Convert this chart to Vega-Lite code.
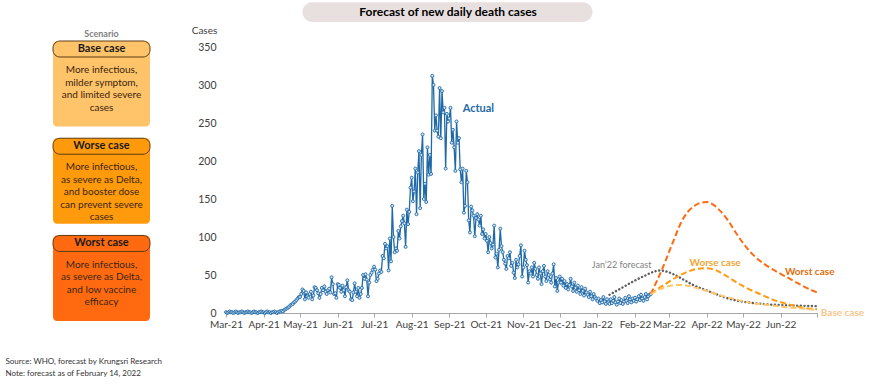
{
"$schema":"https://vega.github.io/schema/vega-lite/v6.json",
"padding":{"left":5,"top":2,"right":3,"bottom":2},
"bounds":"flush",
"spacing":76,
"title":{"text":["Source: WHO, forecast by Krungsri Research","Note: forecast as of February 14, 2022"],"orient":"bottom","anchor":"start","fontSize":8,"fontWeight":"normal","color":"#333333","dx":-47,"offset":29,"lineHeight":12},
"config":{"font":"Lato","view":{"stroke":null},
 "axisX":{"grid":false,"domainColor":"#A6A6A6","tickColor":"#A6A6A6","tickSize":4,"labelFontSize":10,"labelColor":"#404040","labelPadding":2,"labelFlush":false,"labelOverlap":false},
 "axisY":{"grid":false,"domain":false,"ticks":false,"labelPadding":10,"labelFontSize":10.5,"labelColor":"#404040","labelOverlap":false,"titleAngle":0,"titleX":-22,"titleY":-17,"titleAlign":"center","titleBaseline":"middle","titleFontSize":10,"titleFontWeight":"normal","titleColor":"#404040"}},
"hconcat":[
{
 "width":97,"height":266,
 "title":{"text":"Scenario","fontSize":9,"fontWeight":"bold","color":"#7F7F7F","offset":2,"anchor":"middle"},
 "data":{"values":[
  {"scenario":"Base case","desc":["More infectious,","milder symptom,","and limited severe","cases"]},
  {"scenario":"Worse case","desc":["More infectious,","as severe as Delta,","and booster dose","can prevent severe","cases"]},
  {"scenario":"Worst case","desc":["More infectious,","as severe as Delta,","and low vaccine","efficacy"]}
 ]},
 "layer":[
  {"mark":{"type":"rect","cornerRadius":4},
   "encoding":{
    "y":{"field":"scenario","type":"nominal","sort":null,"scale":{"domain":["Base case","Worse case","Worst case"],"range":[-6,274],"paddingInner":0.12,"paddingOuter":0},"axis":null},
    "color":{"field":"scenario","type":"nominal","scale":{"domain":["Base case","Worse case","Worst case"],"range":["#FFC369","#FF9A0D","#FF6A10"]},"legend":null}}},
  {"mark":{"type":"rect","height":16,"baseline":"top","cornerRadius":7,"stroke":"#5C3D17","strokeWidth":1},
   "encoding":{
    "y":{"field":"scenario","type":"nominal"},
    "color":{"field":"scenario","type":"nominal"}}},
  {"mark":{"type":"text","fontSize":11,"fontWeight":"bold","color":"#1A1A1A","baseline":"middle"},
   "encoding":{"y":{"field":"scenario","type":"nominal","bandPosition":0.094},"text":{"field":"scenario"}}},
  {"mark":{"type":"text","fontSize":10,"lineHeight":12.5,"color":"#3A2510","baseline":"middle"},
   "encoding":{"y":{"field":"scenario","type":"nominal","bandPosition":0.34},"text":{"field":"desc"}}}
 ]
},
{
 "width":591,"height":266,
 "layer":[
  {"data":{"values":[
{"date":"2021-03-01","cases":1},{"date":"2021-03-02","cases":0},{"date":"2021-03-03","cases":1},{"date":"2021-03-04","cases":2},{"date":"2021-03-05","cases":1},{"date":"2021-03-06","cases":1},{"date":"2021-03-07","cases":0},{"date":"2021-03-08","cases":1},{"date":"2021-03-09","cases":2},{"date":"2021-03-10","cases":1},{"date":"2021-03-11","cases":0},{"date":"2021-03-12","cases":1},{"date":"2021-03-13","cases":1},{"date":"2021-03-14","cases":2},{"date":"2021-03-15","cases":1},{"date":"2021-03-16","cases":0},{"date":"2021-03-17","cases":1},{"date":"2021-03-18","cases":1},{"date":"2021-03-19","cases":2},{"date":"2021-03-20","cases":1},{"date":"2021-03-21","cases":1},{"date":"2021-03-22","cases":0},{"date":"2021-03-23","cases":1},{"date":"2021-03-24","cases":2},{"date":"2021-03-25","cases":1},{"date":"2021-03-26","cases":1},{"date":"2021-03-27","cases":0},{"date":"2021-03-28","cases":1},{"date":"2021-03-29","cases":1},{"date":"2021-03-30","cases":2},{"date":"2021-03-31","cases":1},
{"date":"2021-04-01","cases":1},{"date":"2021-04-02","cases":0},{"date":"2021-04-03","cases":1},{"date":"2021-04-04","cases":2},{"date":"2021-04-05","cases":1},{"date":"2021-04-06","cases":1},{"date":"2021-04-07","cases":0},{"date":"2021-04-08","cases":1},{"date":"2021-04-09","cases":1},{"date":"2021-04-10","cases":2},{"date":"2021-04-11","cases":1},{"date":"2021-04-12","cases":0},{"date":"2021-04-13","cases":1},{"date":"2021-04-14","cases":2},{"date":"2021-04-15","cases":2},{"date":"2021-04-16","cases":3},{"date":"2021-04-17","cases":2},{"date":"2021-04-18","cases":4},{"date":"2021-04-19","cases":5},{"date":"2021-04-20","cases":6},{"date":"2021-04-21","cases":7},{"date":"2021-04-22","cases":8},{"date":"2021-04-23","cases":10},{"date":"2021-04-24","cases":11},{"date":"2021-04-25","cases":12},{"date":"2021-04-26","cases":14},{"date":"2021-04-27","cases":15},{"date":"2021-04-28","cases":17},{"date":"2021-04-29","cases":19},{"date":"2021-04-30","cases":21},
{"date":"2021-05-01","cases":21},{"date":"2021-05-02","cases":25},{"date":"2021-05-03","cases":31},{"date":"2021-05-04","cases":29},{"date":"2021-05-05","cases":18},{"date":"2021-05-06","cases":27},{"date":"2021-05-07","cases":22},{"date":"2021-05-08","cases":20},{"date":"2021-05-09","cases":25},{"date":"2021-05-10","cases":28},{"date":"2021-05-11","cases":18},{"date":"2021-05-12","cases":23},{"date":"2021-05-13","cases":34},{"date":"2021-05-14","cases":33},{"date":"2021-05-15","cases":30},{"date":"2021-05-16","cases":26},{"date":"2021-05-17","cases":20},{"date":"2021-05-18","cases":25},{"date":"2021-05-19","cases":33},{"date":"2021-05-20","cases":30},{"date":"2021-05-21","cases":35},{"date":"2021-05-22","cases":28},{"date":"2021-05-23","cases":25},{"date":"2021-05-24","cases":30},{"date":"2021-05-25","cases":32},{"date":"2021-05-26","cases":27},{"date":"2021-05-27","cases":47},{"date":"2021-05-28","cases":38},{"date":"2021-05-29","cases":25},{"date":"2021-05-30","cases":26},{"date":"2021-05-31","cases":20},
{"date":"2021-06-01","cases":38},{"date":"2021-06-02","cases":37},{"date":"2021-06-03","cases":33},{"date":"2021-06-04","cases":28},{"date":"2021-06-05","cases":36},{"date":"2021-06-06","cases":30},{"date":"2021-06-07","cases":22},{"date":"2021-06-08","cases":34},{"date":"2021-06-09","cases":43},{"date":"2021-06-10","cases":30},{"date":"2021-06-11","cases":28},{"date":"2021-06-12","cases":18},{"date":"2021-06-13","cases":17},{"date":"2021-06-14","cases":27},{"date":"2021-06-15","cases":39},{"date":"2021-06-16","cases":28},{"date":"2021-06-17","cases":22},{"date":"2021-06-18","cases":33},{"date":"2021-06-19","cases":20},{"date":"2021-06-20","cases":25},{"date":"2021-06-21","cases":33},{"date":"2021-06-22","cases":50},{"date":"2021-06-23","cases":45},{"date":"2021-06-24","cases":51},{"date":"2021-06-25","cases":44},{"date":"2021-06-26","cases":22},{"date":"2021-06-27","cases":40},{"date":"2021-06-28","cases":50},{"date":"2021-06-29","cases":53},{"date":"2021-06-30","cases":57},
{"date":"2021-07-01","cases":61},{"date":"2021-07-02","cases":57},{"date":"2021-07-03","cases":42},{"date":"2021-07-04","cases":45},{"date":"2021-07-05","cases":52},{"date":"2021-07-06","cases":56},{"date":"2021-07-07","cases":54},{"date":"2021-07-08","cases":75},{"date":"2021-07-09","cases":72},{"date":"2021-07-10","cases":91},{"date":"2021-07-11","cases":85},{"date":"2021-07-12","cases":88},{"date":"2021-07-13","cases":56},{"date":"2021-07-14","cases":98},{"date":"2021-07-15","cases":68},{"date":"2021-07-16","cases":141},{"date":"2021-07-17","cases":100},{"date":"2021-07-18","cases":80},{"date":"2021-07-19","cases":85},{"date":"2021-07-20","cases":82},{"date":"2021-07-21","cases":108},{"date":"2021-07-22","cases":98},{"date":"2021-07-23","cases":114},{"date":"2021-07-24","cases":121},{"date":"2021-07-25","cases":128},{"date":"2021-07-26","cases":118},{"date":"2021-07-27","cases":87},{"date":"2021-07-28","cases":136},{"date":"2021-07-29","cases":117},{"date":"2021-07-30","cases":133},{"date":"2021-07-31","cases":165},
{"date":"2021-08-01","cases":178},{"date":"2021-08-02","cases":147},{"date":"2021-08-03","cases":160},{"date":"2021-08-04","cases":190},{"date":"2021-08-05","cases":130},{"date":"2021-08-06","cases":185},{"date":"2021-08-07","cases":213},{"date":"2021-08-08","cases":138},{"date":"2021-08-09","cases":208},{"date":"2021-08-10","cases":235},{"date":"2021-08-11","cases":150},{"date":"2021-08-12","cases":170},{"date":"2021-08-13","cases":146},{"date":"2021-08-14","cases":218},{"date":"2021-08-15","cases":182},{"date":"2021-08-16","cases":208},{"date":"2021-08-17","cases":183},{"date":"2021-08-18","cases":312},{"date":"2021-08-19","cases":300},{"date":"2021-08-20","cases":240},{"date":"2021-08-21","cases":260},{"date":"2021-08-22","cases":240},{"date":"2021-08-23","cases":232},{"date":"2021-08-24","cases":296},{"date":"2021-08-25","cases":230},{"date":"2021-08-26","cases":292},{"date":"2021-08-27","cases":264},{"date":"2021-08-28","cases":270},{"date":"2021-08-29","cases":190},{"date":"2021-08-30","cases":262},{"date":"2021-08-31","cases":252},
{"date":"2021-09-01","cases":256},{"date":"2021-09-02","cases":270},{"date":"2021-09-03","cases":224},{"date":"2021-09-04","cases":241},{"date":"2021-09-05","cases":218},{"date":"2021-09-06","cases":187},{"date":"2021-09-07","cases":252},{"date":"2021-09-08","cases":224},{"date":"2021-09-09","cases":230},{"date":"2021-09-10","cases":189},{"date":"2021-09-11","cases":172},{"date":"2021-09-12","cases":190},{"date":"2021-09-13","cases":132},{"date":"2021-09-14","cases":141},{"date":"2021-09-15","cases":187},{"date":"2021-09-16","cases":172},{"date":"2021-09-17","cases":122},{"date":"2021-09-18","cases":106},{"date":"2021-09-19","cases":140},{"date":"2021-09-20","cases":135},{"date":"2021-09-21","cases":128},{"date":"2021-09-22","cases":101},{"date":"2021-09-23","cases":125},{"date":"2021-09-24","cases":130},{"date":"2021-09-25","cases":123},{"date":"2021-09-26","cases":115},{"date":"2021-09-27","cases":128},{"date":"2021-09-28","cases":104},{"date":"2021-09-29","cases":110},{"date":"2021-09-30","cases":98},
{"date":"2021-10-01","cases":104},{"date":"2021-10-02","cases":95},{"date":"2021-10-03","cases":80},{"date":"2021-10-04","cases":100},{"date":"2021-10-05","cases":92},{"date":"2021-10-06","cases":85},{"date":"2021-10-07","cases":90},{"date":"2021-10-08","cases":115},{"date":"2021-10-09","cases":73},{"date":"2021-10-10","cases":78},{"date":"2021-10-11","cases":60},{"date":"2021-10-12","cases":83},{"date":"2021-10-13","cases":111},{"date":"2021-10-14","cases":88},{"date":"2021-10-15","cases":80},{"date":"2021-10-16","cases":70},{"date":"2021-10-17","cases":65},{"date":"2021-10-18","cases":58},{"date":"2021-10-19","cases":75},{"date":"2021-10-20","cases":72},{"date":"2021-10-21","cases":80},{"date":"2021-10-22","cases":62},{"date":"2021-10-23","cases":66},{"date":"2021-10-24","cases":53},{"date":"2021-10-25","cases":46},{"date":"2021-10-26","cases":70},{"date":"2021-10-27","cases":60},{"date":"2021-10-28","cases":64},{"date":"2021-10-29","cases":75},{"date":"2021-10-30","cases":89},{"date":"2021-10-31","cases":48},
{"date":"2021-11-01","cases":60},{"date":"2021-11-02","cases":82},{"date":"2021-11-03","cases":70},{"date":"2021-11-04","cases":63},{"date":"2021-11-05","cases":40},{"date":"2021-11-06","cases":55},{"date":"2021-11-07","cases":52},{"date":"2021-11-08","cases":60},{"date":"2021-11-09","cases":48},{"date":"2021-11-10","cases":66},{"date":"2021-11-11","cases":58},{"date":"2021-11-12","cases":50},{"date":"2021-11-13","cases":45},{"date":"2021-11-14","cases":60},{"date":"2021-11-15","cases":52},{"date":"2021-11-16","cases":38},{"date":"2021-11-17","cases":55},{"date":"2021-11-18","cases":62},{"date":"2021-11-19","cases":48},{"date":"2021-11-20","cases":42},{"date":"2021-11-21","cases":55},{"date":"2021-11-22","cases":50},{"date":"2021-11-23","cases":44},{"date":"2021-11-24","cases":40},{"date":"2021-11-25","cases":52},{"date":"2021-11-26","cases":64},{"date":"2021-11-27","cases":35},{"date":"2021-11-28","cases":46},{"date":"2021-11-29","cases":29},{"date":"2021-11-30","cases":40},
{"date":"2021-12-01","cases":48},{"date":"2021-12-02","cases":40},{"date":"2021-12-03","cases":45},{"date":"2021-12-04","cases":36},{"date":"2021-12-05","cases":42},{"date":"2021-12-06","cases":33},{"date":"2021-12-07","cases":38},{"date":"2021-12-08","cases":31},{"date":"2021-12-09","cases":37},{"date":"2021-12-10","cases":45},{"date":"2021-12-11","cases":35},{"date":"2021-12-12","cases":29},{"date":"2021-12-13","cases":40},{"date":"2021-12-14","cases":33},{"date":"2021-12-15","cases":28},{"date":"2021-12-16","cases":36},{"date":"2021-12-17","cases":30},{"date":"2021-12-18","cases":25},{"date":"2021-12-19","cases":34},{"date":"2021-12-20","cases":29},{"date":"2021-12-21","cases":23},{"date":"2021-12-22","cases":32},{"date":"2021-12-23","cases":27},{"date":"2021-12-24","cases":24},{"date":"2021-12-25","cases":21},{"date":"2021-12-26","cases":28},{"date":"2021-12-27","cases":22},{"date":"2021-12-28","cases":18},{"date":"2021-12-29","cases":25},{"date":"2021-12-30","cases":21},{"date":"2021-12-31","cases":19},
{"date":"2022-01-01","cases":16},{"date":"2022-01-02","cases":19},{"date":"2022-01-03","cases":13},{"date":"2022-01-04","cases":17},{"date":"2022-01-05","cases":14},{"date":"2022-01-06","cases":21},{"date":"2022-01-07","cases":15},{"date":"2022-01-08","cases":12},{"date":"2022-01-09","cases":18},{"date":"2022-01-10","cases":14},{"date":"2022-01-11","cases":12},{"date":"2022-01-12","cases":18},{"date":"2022-01-13","cases":13},{"date":"2022-01-14","cases":16},{"date":"2022-01-15","cases":21},{"date":"2022-01-16","cases":14},{"date":"2022-01-17","cases":11},{"date":"2022-01-18","cases":15},{"date":"2022-01-19","cases":19},{"date":"2022-01-20","cases":13},{"date":"2022-01-21","cases":17},{"date":"2022-01-22","cases":12},{"date":"2022-01-23","cases":15},{"date":"2022-01-24","cases":20},{"date":"2022-01-25","cases":16},{"date":"2022-01-26","cases":13},{"date":"2022-01-27","cases":22},{"date":"2022-01-28","cases":18},{"date":"2022-01-29","cases":14},{"date":"2022-01-30","cases":19},{"date":"2022-01-31","cases":16},
{"date":"2022-02-01","cases":20},{"date":"2022-02-02","cases":15},{"date":"2022-02-03","cases":18},{"date":"2022-02-04","cases":22},{"date":"2022-02-05","cases":17},{"date":"2022-02-06","cases":24},{"date":"2022-02-07","cases":19},{"date":"2022-02-08","cases":16},{"date":"2022-02-09","cases":21},{"date":"2022-02-10","cases":25},{"date":"2022-02-11","cases":18},{"date":"2022-02-12","cases":22},{"date":"2022-02-13","cases":24},{"date":"2022-02-14","cases":25}
  ]},
   "mark":{"type":"line","color":"#1F69A6","strokeWidth":1.3,"point":{"filled":false,"fill":"#D6E6F4","stroke":"#1F69A6","size":9,"strokeWidth":0.9}},
   "encoding":{
    "x":{"field":"date","type":"temporal","title":null,"scale":{"domain":[{"year":2021,"month":3,"date":1},{"year":2022,"month":7,"date":1}]},"axis":{"values":[{"year":2021,"month":3,"date":1},{"year":2021,"month":4,"date":1},{"year":2021,"month":5,"date":1},{"year":2021,"month":6,"date":1},{"year":2021,"month":7,"date":1},{"year":2021,"month":8,"date":1},{"year":2021,"month":9,"date":1},{"year":2021,"month":10,"date":1},{"year":2021,"month":11,"date":1},{"year":2021,"month":12,"date":1},{"year":2022,"month":1,"date":1},{"year":2022,"month":2,"date":1},{"year":2022,"month":3,"date":1},{"year":2022,"month":4,"date":1},{"year":2022,"month":5,"date":1},{"year":2022,"month":6,"date":1},{"year":2022,"month":7,"date":1}],"format":"%b-%y","labelExpr":"year(datum.value) == 2022 && month(datum.value) == 6 ? '' : datum.label","labelOverlap":false}},
    "y":{"field":"cases","type":"quantitative","title":"Cases","scale":{"domain":[0,350]},"axis":{"values":[0,50,100,150,200,250,300,350],"labelOverlap":false}}
   }},
  {"data":{"values":[
{"series":"Jan’22 forecast","date":"2022-01-11","cases":24},{"series":"Jan’22 forecast","date":"2022-01-20","cases":32},{"series":"Jan’22 forecast","date":"2022-01-30","cases":41},{"series":"Jan’22 forecast","date":"2022-02-09","cases":49},{"series":"Jan’22 forecast","date":"2022-02-16","cases":54},{"series":"Jan’22 forecast","date":"2022-02-21","cases":56},{"series":"Jan’22 forecast","date":"2022-02-26","cases":55},{"series":"Jan’22 forecast","date":"2022-03-06","cases":50},{"series":"Jan’22 forecast","date":"2022-03-14","cases":43},{"series":"Jan’22 forecast","date":"2022-03-22","cases":36},{"series":"Jan’22 forecast","date":"2022-03-30","cases":31},{"series":"Jan’22 forecast","date":"2022-04-07","cases":26},{"series":"Jan’22 forecast","date":"2022-04-17","cases":20},{"series":"Jan’22 forecast","date":"2022-04-27","cases":16},{"series":"Jan’22 forecast","date":"2022-05-10","cases":13},{"series":"Jan’22 forecast","date":"2022-05-25","cases":11},{"series":"Jan’22 forecast","date":"2022-06-09","cases":10},{"series":"Jan’22 forecast","date":"2022-07-01","cases":9}
  ]},
   "mark":{"type":"line","strokeWidth":2.4,"interpolate":"monotone","color":"#5E5E5E","strokeDash":[0.1,3.6],"strokeCap":"round"},
   "encoding":{
    "x":{"field":"date","type":"temporal","title":null,"scale":{"domain":[{"year":2021,"month":3,"date":1},{"year":2022,"month":7,"date":1}]},"axis":{"values":[{"year":2021,"month":3,"date":1},{"year":2021,"month":4,"date":1},{"year":2021,"month":5,"date":1},{"year":2021,"month":6,"date":1},{"year":2021,"month":7,"date":1},{"year":2021,"month":8,"date":1},{"year":2021,"month":9,"date":1},{"year":2021,"month":10,"date":1},{"year":2021,"month":11,"date":1},{"year":2021,"month":12,"date":1},{"year":2022,"month":1,"date":1},{"year":2022,"month":2,"date":1},{"year":2022,"month":3,"date":1},{"year":2022,"month":4,"date":1},{"year":2022,"month":5,"date":1},{"year":2022,"month":6,"date":1},{"year":2022,"month":7,"date":1}],"format":"%b-%y","labelExpr":"year(datum.value) == 2022 && month(datum.value) == 6 ? '' : datum.label","labelOverlap":false}},
    "y":{"field":"cases","type":"quantitative","title":"Cases","scale":{"domain":[0,350]},"axis":{"values":[0,50,100,150,200,250,300,350],"labelOverlap":false}}
   }},
  {"data":{"values":[
{"scenario":"Worst case","date":"2022-02-14","cases":25},{"scenario":"Worst case","date":"2022-02-19","cases":42},{"scenario":"Worst case","date":"2022-02-24","cases":60},{"scenario":"Worst case","date":"2022-03-01","cases":80},{"scenario":"Worst case","date":"2022-03-06","cases":100},{"scenario":"Worst case","date":"2022-03-11","cases":119},{"scenario":"Worst case","date":"2022-03-16","cases":132},{"scenario":"Worst case","date":"2022-03-22","cases":141},{"scenario":"Worst case","date":"2022-03-27","cases":145},{"scenario":"Worst case","date":"2022-04-01","cases":146},{"scenario":"Worst case","date":"2022-04-07","cases":142},{"scenario":"Worst case","date":"2022-04-13","cases":133},{"scenario":"Worst case","date":"2022-04-19","cases":121},{"scenario":"Worst case","date":"2022-04-25","cases":106},{"scenario":"Worst case","date":"2022-05-03","cases":88},{"scenario":"Worst case","date":"2022-05-11","cases":74},{"scenario":"Worst case","date":"2022-05-19","cases":64},{"scenario":"Worst case","date":"2022-05-27","cases":56},{"scenario":"Worst case","date":"2022-06-04","cases":49},{"scenario":"Worst case","date":"2022-06-12","cases":42},{"scenario":"Worst case","date":"2022-06-20","cases":35},{"scenario":"Worst case","date":"2022-07-01","cases":27},
{"scenario":"Worse case","date":"2022-02-14","cases":25},{"scenario":"Worse case","date":"2022-02-21","cases":33},{"scenario":"Worse case","date":"2022-02-28","cases":40},{"scenario":"Worse case","date":"2022-03-08","cases":48},{"scenario":"Worse case","date":"2022-03-16","cases":54},{"scenario":"Worse case","date":"2022-03-24","cases":58},{"scenario":"Worse case","date":"2022-04-01","cases":59},{"scenario":"Worse case","date":"2022-04-09","cases":56},{"scenario":"Worse case","date":"2022-04-17","cases":49},{"scenario":"Worse case","date":"2022-04-25","cases":41},{"scenario":"Worse case","date":"2022-05-05","cases":32},{"scenario":"Worse case","date":"2022-05-15","cases":25},{"scenario":"Worse case","date":"2022-05-25","cases":18},{"scenario":"Worse case","date":"2022-06-04","cases":13},{"scenario":"Worse case","date":"2022-06-14","cases":9},{"scenario":"Worse case","date":"2022-06-24","cases":6},{"scenario":"Worse case","date":"2022-07-01","cases":5},
{"scenario":"Base case","date":"2022-02-14","cases":25},{"scenario":"Base case","date":"2022-02-21","cases":31},{"scenario":"Base case","date":"2022-02-28","cases":35},{"scenario":"Base case","date":"2022-03-08","cases":37},{"scenario":"Base case","date":"2022-03-16","cases":36},{"scenario":"Base case","date":"2022-03-26","cases":32},{"scenario":"Base case","date":"2022-04-05","cases":27},{"scenario":"Base case","date":"2022-04-15","cases":22},{"scenario":"Base case","date":"2022-04-25","cases":18},{"scenario":"Base case","date":"2022-05-05","cases":14},{"scenario":"Base case","date":"2022-05-20","cases":11},{"scenario":"Base case","date":"2022-06-04","cases":8},{"scenario":"Base case","date":"2022-06-19","cases":6},{"scenario":"Base case","date":"2022-07-01","cases":4}
  ]},
   "mark":{"type":"line","strokeWidth":2,"interpolate":"monotone","strokeDash":[6,3]},
   "encoding":{
    "x":{"field":"date","type":"temporal","title":null,"scale":{"domain":[{"year":2021,"month":3,"date":1},{"year":2022,"month":7,"date":1}]},"axis":{"values":[{"year":2021,"month":3,"date":1},{"year":2021,"month":4,"date":1},{"year":2021,"month":5,"date":1},{"year":2021,"month":6,"date":1},{"year":2021,"month":7,"date":1},{"year":2021,"month":8,"date":1},{"year":2021,"month":9,"date":1},{"year":2021,"month":10,"date":1},{"year":2021,"month":11,"date":1},{"year":2021,"month":12,"date":1},{"year":2022,"month":1,"date":1},{"year":2022,"month":2,"date":1},{"year":2022,"month":3,"date":1},{"year":2022,"month":4,"date":1},{"year":2022,"month":5,"date":1},{"year":2022,"month":6,"date":1},{"year":2022,"month":7,"date":1}],"format":"%b-%y","labelExpr":"year(datum.value) == 2022 && month(datum.value) == 6 ? '' : datum.label","labelOverlap":false}},
    "y":{"field":"cases","type":"quantitative","title":"Cases","scale":{"domain":[0,350]},"axis":{"values":[0,50,100,150,200,250,300,350],"labelOverlap":false}},
    "color":{"field":"scenario","type":"nominal","scale":{"domain":["Worst case","Worse case","Base case"],"range":["#E46C0A","#F2A93B","#F8CB8E"]},"legend":null}
   }},
  {"data":{"values":[{}]},
   "mark":{"type":"rect","cornerRadius":10,"color":"#E8DFDF"},
   "encoding":{"x":{"datum":{"year":2021,"month":5,"date":3},"type":"temporal","title":null,"axis":{"values":[{"year":2021,"month":3,"date":1},{"year":2021,"month":4,"date":1},{"year":2021,"month":5,"date":1},{"year":2021,"month":6,"date":1},{"year":2021,"month":7,"date":1},{"year":2021,"month":8,"date":1},{"year":2021,"month":9,"date":1},{"year":2021,"month":10,"date":1},{"year":2021,"month":11,"date":1},{"year":2021,"month":12,"date":1},{"year":2022,"month":1,"date":1},{"year":2022,"month":2,"date":1},{"year":2022,"month":3,"date":1},{"year":2022,"month":4,"date":1},{"year":2022,"month":5,"date":1},{"year":2022,"month":6,"date":1},{"year":2022,"month":7,"date":1}],"format":"%b-%y","labelExpr":"year(datum.value) == 2022 && month(datum.value) == 6 ? '' : datum.label","labelOverlap":false}},"x2":{"datum":{"year":2021,"month":12,"date":28}},"y":{"datum":383,"type":"quantitative","title":"Cases","axis":{"values":[0,50,100,150,200,250,300,350],"labelOverlap":false}},"y2":{"datum":409}}},
  {"data":{"values":[{}]},
   "mark":{"type":"text","fontSize":12,"fontWeight":"bold","color":"#000000"},
   "encoding":{"x":{"datum":{"year":2021,"month":8,"date":31},"type":"temporal","title":null,"axis":{"values":[{"year":2021,"month":3,"date":1},{"year":2021,"month":4,"date":1},{"year":2021,"month":5,"date":1},{"year":2021,"month":6,"date":1},{"year":2021,"month":7,"date":1},{"year":2021,"month":8,"date":1},{"year":2021,"month":9,"date":1},{"year":2021,"month":10,"date":1},{"year":2021,"month":11,"date":1},{"year":2021,"month":12,"date":1},{"year":2022,"month":1,"date":1},{"year":2022,"month":2,"date":1},{"year":2022,"month":3,"date":1},{"year":2022,"month":4,"date":1},{"year":2022,"month":5,"date":1},{"year":2022,"month":6,"date":1},{"year":2022,"month":7,"date":1}],"format":"%b-%y","labelExpr":"year(datum.value) == 2022 && month(datum.value) == 6 ? '' : datum.label","labelOverlap":false}},"y":{"datum":396,"type":"quantitative","title":"Cases","axis":{"values":[0,50,100,150,200,250,300,350],"labelOverlap":false}},"text":{"value":"Forecast of new daily death cases"}}},
  {"data":{"values":[{}]},
   "mark":{"type":"text","fontSize":11,"fontWeight":"bold","color":"#1F69A6","align":"left"},
   "encoding":{"x":{"datum":{"year":2021,"month":9,"date":12},"type":"temporal","title":null,"axis":{"values":[{"year":2021,"month":3,"date":1},{"year":2021,"month":4,"date":1},{"year":2021,"month":5,"date":1},{"year":2021,"month":6,"date":1},{"year":2021,"month":7,"date":1},{"year":2021,"month":8,"date":1},{"year":2021,"month":9,"date":1},{"year":2021,"month":10,"date":1},{"year":2021,"month":11,"date":1},{"year":2021,"month":12,"date":1},{"year":2022,"month":1,"date":1},{"year":2022,"month":2,"date":1},{"year":2022,"month":3,"date":1},{"year":2022,"month":4,"date":1},{"year":2022,"month":5,"date":1},{"year":2022,"month":6,"date":1},{"year":2022,"month":7,"date":1}],"format":"%b-%y","labelExpr":"year(datum.value) == 2022 && month(datum.value) == 6 ? '' : datum.label","labelOverlap":false}},"y":{"datum":268,"type":"quantitative","title":"Cases","axis":{"values":[0,50,100,150,200,250,300,350],"labelOverlap":false}},"text":{"value":"Actual"}}},
  {"data":{"values":[{}]},
   "mark":{"type":"text","fontSize":9,"color":"#7F7F7F"},
   "encoding":{"x":{"datum":{"year":2022,"month":1,"date":21},"type":"temporal","title":null,"axis":{"values":[{"year":2021,"month":3,"date":1},{"year":2021,"month":4,"date":1},{"year":2021,"month":5,"date":1},{"year":2021,"month":6,"date":1},{"year":2021,"month":7,"date":1},{"year":2021,"month":8,"date":1},{"year":2021,"month":9,"date":1},{"year":2021,"month":10,"date":1},{"year":2021,"month":11,"date":1},{"year":2021,"month":12,"date":1},{"year":2022,"month":1,"date":1},{"year":2022,"month":2,"date":1},{"year":2022,"month":3,"date":1},{"year":2022,"month":4,"date":1},{"year":2022,"month":5,"date":1},{"year":2022,"month":6,"date":1},{"year":2022,"month":7,"date":1}],"format":"%b-%y","labelExpr":"year(datum.value) == 2022 && month(datum.value) == 6 ? '' : datum.label","labelOverlap":false}},"y":{"datum":63,"type":"quantitative","title":"Cases","axis":{"values":[0,50,100,150,200,250,300,350],"labelOverlap":false}},"text":{"value":"Jan’22 forecast"}}},
  {"data":{"values":[{}]},
   "mark":{"type":"text","fontSize":10,"fontWeight":"bold","color":"#F0A534"},
   "encoding":{"x":{"datum":{"year":2022,"month":4,"date":8},"type":"temporal","title":null,"axis":{"values":[{"year":2021,"month":3,"date":1},{"year":2021,"month":4,"date":1},{"year":2021,"month":5,"date":1},{"year":2021,"month":6,"date":1},{"year":2021,"month":7,"date":1},{"year":2021,"month":8,"date":1},{"year":2021,"month":9,"date":1},{"year":2021,"month":10,"date":1},{"year":2021,"month":11,"date":1},{"year":2021,"month":12,"date":1},{"year":2022,"month":1,"date":1},{"year":2022,"month":2,"date":1},{"year":2022,"month":3,"date":1},{"year":2022,"month":4,"date":1},{"year":2022,"month":5,"date":1},{"year":2022,"month":6,"date":1},{"year":2022,"month":7,"date":1}],"format":"%b-%y","labelExpr":"year(datum.value) == 2022 && month(datum.value) == 6 ? '' : datum.label","labelOverlap":false}},"y":{"datum":66,"type":"quantitative","title":"Cases","axis":{"values":[0,50,100,150,200,250,300,350],"labelOverlap":false}},"text":{"value":"Worse case"}}},
  {"data":{"values":[{}]},
   "mark":{"type":"text","fontSize":10,"fontWeight":"bold","color":"#E46C0A"},
   "encoding":{"x":{"datum":{"year":2022,"month":6,"date":25},"type":"temporal","title":null,"axis":{"values":[{"year":2021,"month":3,"date":1},{"year":2021,"month":4,"date":1},{"year":2021,"month":5,"date":1},{"year":2021,"month":6,"date":1},{"year":2021,"month":7,"date":1},{"year":2021,"month":8,"date":1},{"year":2021,"month":9,"date":1},{"year":2021,"month":10,"date":1},{"year":2021,"month":11,"date":1},{"year":2021,"month":12,"date":1},{"year":2022,"month":1,"date":1},{"year":2022,"month":2,"date":1},{"year":2022,"month":3,"date":1},{"year":2022,"month":4,"date":1},{"year":2022,"month":5,"date":1},{"year":2022,"month":6,"date":1},{"year":2022,"month":7,"date":1}],"format":"%b-%y","labelExpr":"year(datum.value) == 2022 && month(datum.value) == 6 ? '' : datum.label","labelOverlap":false}},"y":{"datum":54,"type":"quantitative","title":"Cases","axis":{"values":[0,50,100,150,200,250,300,350],"labelOverlap":false}},"text":{"value":"Worst case"}}},
  {"data":{"values":[{}]},
   "mark":{"type":"text","fontSize":10,"fontWeight":"bold","color":"#F6C68C"},
   "encoding":{"x":{"datum":{"year":2022,"month":7,"date":22},"type":"temporal","title":null,"axis":{"values":[{"year":2021,"month":3,"date":1},{"year":2021,"month":4,"date":1},{"year":2021,"month":5,"date":1},{"year":2021,"month":6,"date":1},{"year":2021,"month":7,"date":1},{"year":2021,"month":8,"date":1},{"year":2021,"month":9,"date":1},{"year":2021,"month":10,"date":1},{"year":2021,"month":11,"date":1},{"year":2021,"month":12,"date":1},{"year":2022,"month":1,"date":1},{"year":2022,"month":2,"date":1},{"year":2022,"month":3,"date":1},{"year":2022,"month":4,"date":1},{"year":2022,"month":5,"date":1},{"year":2022,"month":6,"date":1},{"year":2022,"month":7,"date":1}],"format":"%b-%y","labelExpr":"year(datum.value) == 2022 && month(datum.value) == 6 ? '' : datum.label","labelOverlap":false}},"y":{"datum":0,"type":"quantitative","title":"Cases","axis":{"values":[0,50,100,150,200,250,300,350],"labelOverlap":false}},"text":{"value":"Base case"}}}
 ]
}
]
}
